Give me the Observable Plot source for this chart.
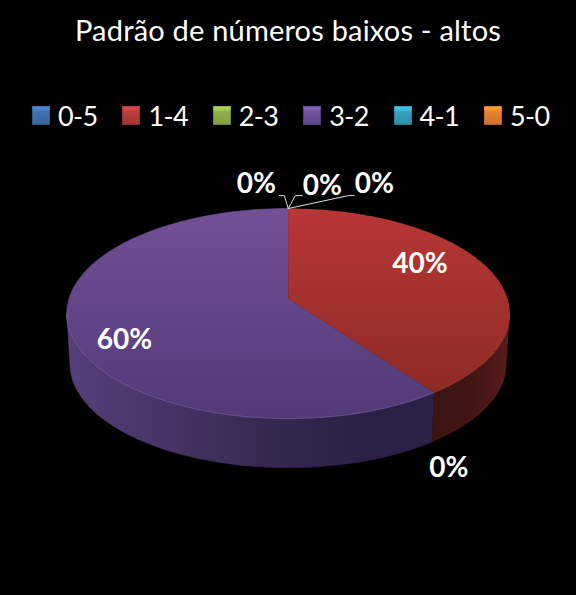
<!DOCTYPE html>
<html><head><meta charset="utf-8">
<script src="https://cdn.jsdelivr.net/npm/d3@7"></script>
<script src="https://cdn.jsdelivr.net/npm/@observablehq/plot@0.6"></script>
<style>
html,body{margin:0;padding:0;background:#000;width:576px;height:595px;overflow:hidden}
body{font-family:Lato,"Open Sans",sans-serif;color:#fff;position:relative}
#title{position:absolute;left:0;top:11px;width:576px;text-align:center;font-size:29px;line-height:38px;letter-spacing:.2px}
#legend{position:absolute;left:32px;top:97px;display:flex}
.item{width:90.4px;display:flex;align-items:center;height:36px;font-size:27px;letter-spacing:-.6px;white-space:nowrap}
.sw{width:18px;height:19px;margin-right:8px;flex:none;box-shadow:inset 0 0 0 1px rgba(0,0,0,.18)}
#chart{position:absolute;left:0;top:150px}
svg{display:block;background:#000}
</style></head><body>
<div id="title"></div>
<div id="legend"></div>
<div id="chart"></div>
<script>
const titleText = "Padrão de números baixos - altos";
const categories = ["0-5","1-4","2-3","3-2","4-1","5-0"];
const shares = [0,40,0,60,0,0];
const swatchColors = ["#3f72b4","#b83c3a","#8fb247","#6e4f9f","#33a3c1","#e9812f"];

document.getElementById("title").textContent = titleText;
const legend = document.getElementById("legend");
categories.forEach((c,i)=>{
  const it=document.createElement("div");it.className="item";
  const s=document.createElement("span");s.className="sw";
  const col=swatchColors[i];
  s.style.background=`linear-gradient(180deg,${d3.color(col).brighter(.6)} 0%,${d3.color(col).brighter(.35)} 22%,${col} 30%,${d3.color(col).darker(.35)} 100%)`;
  it.append(s,document.createTextNode(c));legend.append(it);
});

// Pie geometry, from the values, in perspective
const k = 1/7, depth = 0.495, wallScale = 0.985;
const arcs = d3.pie().sort(null).value(d=>d)(shares);
const proj = (a,r=1,drop=0,sc=1)=>{
  const u=r*Math.sin(a), v=-r*Math.cos(a), w=1-k*v;
  return {x:sc*u/w, y:sc*v/w+drop};
};
const range = (a0,a1)=>{const n=Math.max(2,Math.ceil((a1-a0)/0.02));return d3.range(n+1).map(i=>a0+(a1-a0)*i/n);};
const topPoly = (a0,a1)=>[{x:0,y:0},...range(a0,a1).map(a=>proj(a))];
const rim = (a0,a1)=>range(a0,a1).map(a=>proj(a));
const wallPoly = (a0,a1)=>{
  const as=range(a0,a1);
  return [...as.map(a=>proj(a)),...as.slice().reverse().map(a=>proj(a,1,depth,wallScale))];
};
const red = arcs[1], purple = arcs[3];
// silhouette angles: where the projected rim reaches its widest x
const sideR = Math.acos(-k), sideL = 2*Math.PI-sideR;
const redWall = wallPoly(sideR,red.endAngle);
const purpleWall = wallPoly(purple.startAngle,sideL);
const redTop = topPoly(red.startAngle,red.endAngle);
const purpleTop = topPoly(purple.startAngle,purple.endAngle);

const apex = proj(0);
const lead = (dir,far)=>[apex,{x:apex.x+dir,y:apex.y-0.125},{x:apex.x+dir+far,y:apex.y-0.125}];

const defs = ()=>{
  const svg=d3.create("svg:defs");
  const grad=(id,x2,y2,stops)=>{
    const g=svg.append("linearGradient").attr("id",id).attr("x1",0).attr("y1",0).attr("x2",x2).attr("y2",y2);
    stops.forEach(([o,c])=>g.append("stop").attr("offset",o).attr("stop-color",c));
  };
  grad("gRedTop",0,1,[[0,"#b83734"],[1,"#8f2a27"]]);
  grad("gPurpleTop",0,1,[[0,"#725096"],[1,"#523a78"]]);
  grad("gRedWall",1,0,[[0,"#3c1512"],[.45,"#401513"],[1,"#571c1a"]]);
  grad("gPurpleWall",1,0,[[0,"#563f7c"],[.3,"#463364"],[.55,"#362851"],[.85,"#2a1f45"],[1,"#2b2048"]]);
  return svg.node();
};

const labelStyle = {text:d=>d.t,fill:"#fff",fontFamily:"Lato, sans-serif",fontWeight:700,fontSize:28,textAnchor:"middle",lineAnchor:"middle"};
const pct = v=>`${v}%`;
const labelAt = (p,t,dx,dy)=>Plot.text([{...p,t}],{x:"x",y:"y",dx,dy,...labelStyle});

const plot = Plot.plot({
  width:576,height:445,margin:0,
  style:{background:"#000"},
  x:{axis:null,domain:[-1,1],range:[68.5,507]},
  y:{axis:null,domain:[-1,1],range:[45.14,250.86]},
  marks:[
    defs,
    Plot.line(purpleWall,{x:"x",y:"y",curve:"linear-closed",fill:"url(#gPurpleWall)",stroke:"url(#gPurpleWall)",strokeWidth:.6}),
    Plot.line(redWall,{x:"x",y:"y",curve:"linear-closed",fill:"url(#gRedWall)",stroke:"none"}),
    Plot.line(purpleTop,{x:"x",y:"y",curve:"linear-closed",fill:"url(#gPurpleTop)",stroke:"url(#gPurpleTop)",strokeWidth:.6}),
    Plot.line(redTop,{x:"x",y:"y",curve:"linear-closed",fill:"url(#gRedTop)",stroke:"none"}),
    Plot.line(rim(purple.startAngle,sideL),{x:"x",y:"y",stroke:"#8068a8",strokeOpacity:.55,strokeWidth:1}),
    Plot.line(rim(sideR,red.endAngle),{x:"x",y:"y",stroke:"#c24a46",strokeOpacity:.5,strokeWidth:1}),
    Plot.line(lead(-0.018,-0.023),{x:"x",y:"y",stroke:"#ddd",strokeWidth:1,curve:"linear"}),
    Plot.line(lead(0.032,0.032),{x:"x",y:"y",stroke:"#ddd",strokeWidth:1,curve:"linear"}),
    Plot.line(lead(0.274,0.027),{x:"x",y:"y",stroke:"#ddd",strokeWidth:1,curve:"linear"}),
    labelAt(proj((red.startAngle+red.endAngle)/2,.65),pct(shares[1]),0,-14),
    labelAt(proj((purple.startAngle+purple.endAngle)/2,.75),pct(shares[3]),-2,17),
    labelAt(proj(red.endAngle),pct(shares[2]),15,75),
    labelAt(apex,pct(shares[0]),-32,-24),
    labelAt(apex,pct(shares[4]),34,-22),
    labelAt(apex,pct(shares[5]),86,-24)
  ]
});
document.getElementById("chart").append(plot);
</script>
</body></html>
